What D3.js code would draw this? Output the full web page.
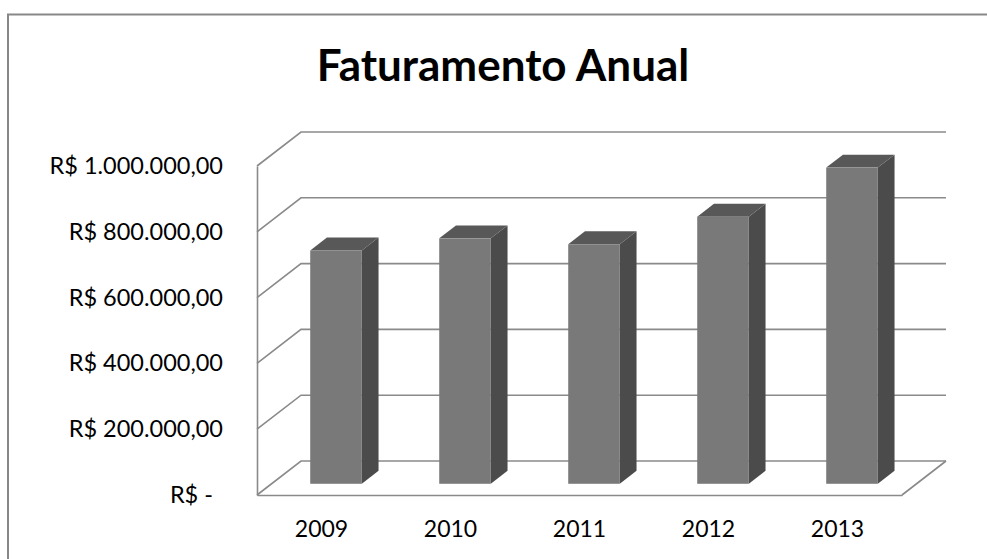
<!DOCTYPE html>
<html>
<head>
<meta charset="utf-8">
<script src="https://cdn.jsdelivr.net/npm/d3@7/dist/d3.min.js"></script>
<style>
  html, body { margin: 0; padding: 0; background: #fff; }
  svg { display: block; }
  text { font-family: Lato, "Open Sans", sans-serif; fill: #000; }
</style>
</head>
<body>
<svg id="chart" width="987" height="559"></svg>
<script>
// Annual revenue (R$)
const years = ["2009", "2010", "2011", "2012", "2013"];
const revenue = [709000, 746000, 728000, 812000, 961000];
const tickValues = [0, 200000, 400000, 600000, 800000, 1000000];
const tickLabels = ["R$ -", "R$ 200.000,00", "R$ 400.000,00", "R$ 600.000,00", "R$ 800.000,00", "R$ 1.000.000,00"];
const title = "Faturamento Anual";

const W = 987, H = 559;
const svg = d3.select("#chart");

// Oblique projection: full depth of the plot box
const depthX = 44, depthY = -34;
// Bars occupy this slice of the depth
const barD0 = 0.33, barD1 = 0.71;
const gridColor = "#8a8a8a";

const x = d3.scaleBand().domain(years).range([257, 902]).padding(0);
const y = d3.scaleLinear().domain([0, 1000000]).range([495, 166]);

// Chart frame
svg.append("rect")
  .attr("x", 8).attr("y", 14.5)
  .attr("width", W + 20).attr("height", H + 20)
  .attr("fill", "none").attr("stroke", "#888").attr("stroke-width", 2);

// Title
svg.append("text")
  .attr("x", 503).attr("y", 81)
  .attr("text-anchor", "middle")
  .style("font-size", "44px").style("font-weight", "bold")
  .text(title);

const x0 = x.range()[0], x1 = x.range()[1];

// Gridlines: back wall + left wall diagonal
const grid = svg.append("g").attr("fill", "none").attr("stroke", gridColor).attr("stroke-width", 1.6);
tickValues.forEach(v => {
  const yf = y(v), yb = y(v) + depthY;
  grid.append("path")
    .attr("d", `M${x0},${yf}L${x0 + depthX},${yb}L${x1 + depthX},${yb}`);
});
// Floor right edge
grid.append("path")
  .attr("d", `M${x1},${y(0)}L${x1 + depthX},${y(0) + depthY}`);

// Axes
const yAxis = svg.append("g")
  .attr("transform", `translate(${x0},0)`)
  .call(d3.axisLeft(y).tickValues(tickValues)
    .tickFormat((d, i) => tickLabels[i]).tickSize(0).tickPadding(34));
yAxis.select(".domain").attr("stroke", gridColor).attr("stroke-width", 1.6);
yAxis.selectAll("text").style("font-size", "23.5px").attr("fill", "#000")
  .attr("dx", d => d === 0 ? -10 : 0);

const xAxis = svg.append("g")
  .attr("transform", `translate(0,${y(0)})`)
  .call(d3.axisBottom(x).tickSize(0).tickPadding(26).tickSizeOuter(0));
xAxis.select(".domain").attr("stroke", gridColor).attr("stroke-width", 1.6);
xAxis.selectAll("text").style("font-size", "23px").attr("fill", "#000");

// 3D columns
const bw = x.bandwidth() * 0.4;
const ddx = (barD1 - barD0) * depthX, ddy = (barD1 - barD0) * depthY;
const bars = svg.append("g").selectAll("g").data(years.map((c, i) => ({ c, v: revenue[i] }))).join("g");

bars.each(function (d) {
  const g = d3.select(this);
  const cx = x(d.c) + x.bandwidth() / 2 + barD0 * depthX;
  const left = cx - bw / 2, right = cx + bw / 2;
  const yb = y(0) + barD0 * depthY;
  const yt = y(d.v) + barD0 * depthY;
  // side face
  g.append("path")
    .attr("d", `M${right},${yb}L${right},${yt}L${right + ddx},${yt + ddy}L${right + ddx},${yb + ddy}Z`)
    .attr("fill", "#4b4b4b");
  // top face
  g.append("path")
    .attr("d", `M${left},${yt}L${right},${yt}L${right + ddx},${yt + ddy}L${left + ddx},${yt + ddy}Z`)
    .attr("fill", "#585858");
  // front face
  g.append("rect")
    .attr("x", left).attr("y", yt)
    .attr("width", bw).attr("height", yb - yt)
    .attr("fill", "#797979");
});
</script>
</body>
</html>
